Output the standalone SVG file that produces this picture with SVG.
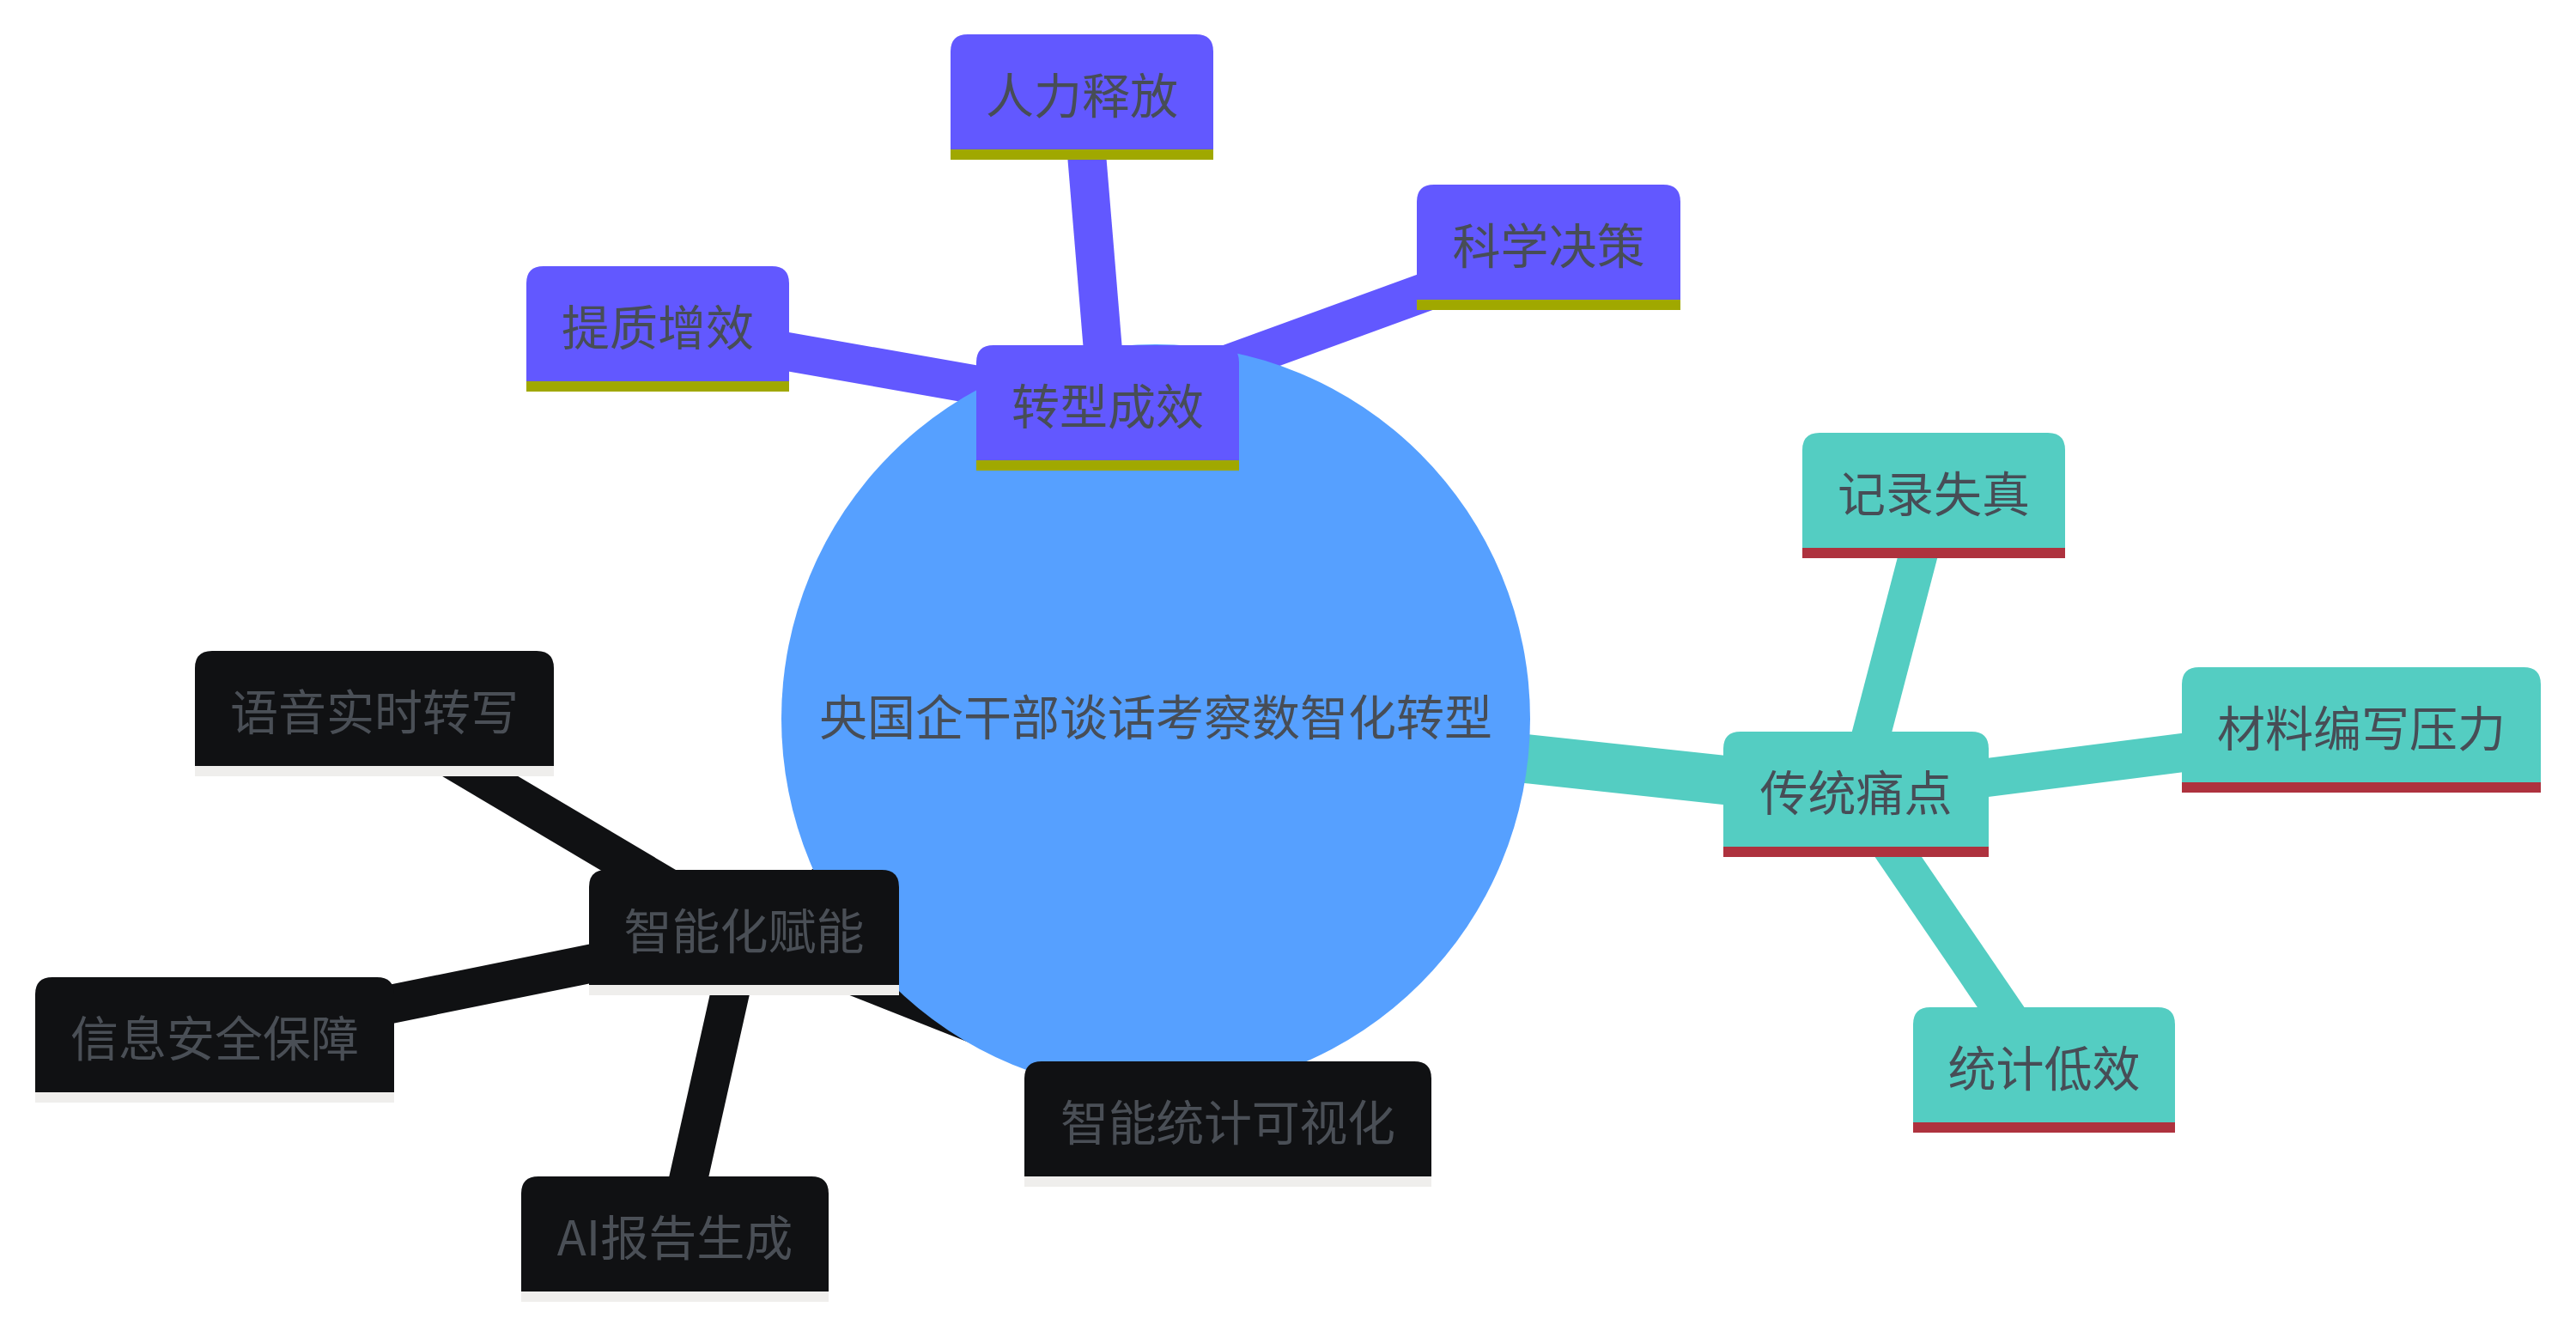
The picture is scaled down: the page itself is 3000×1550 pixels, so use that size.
<svg xmlns="http://www.w3.org/2000/svg" width="3000" height="1550" viewBox="0 0 3000 1550">
<style>
.bg{fill:#ffffff}
.e0{stroke-width:57;fill:none;stroke-linecap:butt}
.e1{stroke-width:45;fill:none;stroke-linecap:butt}
.cp{stroke:#6258ff}
.ct{stroke:#54cdc2}
.ck{stroke:#101113}
.fp{fill:#6258ff}
.ft{fill:#54cdc2}
.fk{fill:#101113}
.bp{fill:#a0a800}
.bt{fill:#ae323e}
.bk{fill:#efeeec}
.root{fill:#56a0ff}
.lbl{font-family:"Noto Sans CJK SC","Noto Sans",sans-serif;font-size:56px;fill:#474d56;text-anchor:middle}
.lblk{fill:#4a4f56}
</style>
<rect class="bg" x="0" y="0" width="3000" height="1550"/>
<g id="connectors">
  <line class="e0 cp" x1="1346" y1="837" x2="1290" y2="475"/>
  <line class="e0 ct" x1="1346" y1="837" x2="2161" y2="925"/>
  <line class="e0 ck" x1="1346" y1="837" x2="866" y2="1086"/>
  <line class="e1 cp" x1="1290" y1="475" x2="1260" y2="113"/>
  <line class="e1 cp" x1="1290" y1="475" x2="766" y2="383"/>
  <line class="e1 cp" x1="1290" y1="475" x2="1803" y2="288"/>
  <line class="e1 ct" x1="2161" y1="925" x2="2252" y2="577"/>
  <line class="e1 ct" x1="2161" y1="925" x2="2750" y2="850"/>
  <line class="e1 ct" x1="2161" y1="925" x2="2380" y2="1246"/>
  <line class="e1 ck" x1="866" y1="1086" x2="436" y2="831"/>
  <line class="e1 ck" x1="866" y1="1086" x2="250" y2="1211"/>
  <line class="e1 ck" x1="866" y1="1086" x2="786" y2="1443"/>
  <line class="e1 ck" x1="866" y1="1086" x2="1430" y2="1309"/>
</g>
<g id="root">
  <circle class="root" cx="1346" cy="837" r="436"/>
  <text class="lbl" x="1346" y="856">央国企干部谈话考察数智化转型</text>
</g>
<g id="n-zxcx">
  <path class="fp" d="M1137 537V422Q1137 402 1157 402H1423Q1443 402 1443 422V537Z"/>
  <rect class="bp" x="1137" y="536" width="306" height="12"/>
  <text class="lbl" x="1290" y="494">转型成效</text>
</g>
<g id="n-rlsf">
  <path class="fp" d="M1107 175V60Q1107 40 1127 40H1393Q1413 40 1413 60V175Z"/>
  <rect class="bp" x="1107" y="174" width="306" height="12"/>
  <text class="lbl" x="1260" y="132">人力释放</text>
</g>
<g id="n-tzzx">
  <path class="fp" d="M613 445V330Q613 310 633 310H899Q919 310 919 330V445Z"/>
  <rect class="bp" x="613" y="444" width="306" height="12"/>
  <text class="lbl" x="766" y="402">提质增效</text>
</g>
<g id="n-kxjc">
  <path class="fp" d="M1650 350V235Q1650 215 1670 215H1937Q1957 215 1957 235V350Z"/>
  <rect class="bp" x="1650" y="349" width="307" height="12"/>
  <text class="lbl" x="1803.5" y="307">科学决策</text>
</g>
<g id="n-ctdt">
  <path class="ft" d="M2007 988V872Q2007 852 2027 852H2296Q2316 852 2316 872V988Z"/>
  <rect class="bt" x="2007" y="986" width="309" height="12"/>
  <text class="lbl" x="2161.5" y="944">传统痛点</text>
</g>
<g id="n-jlsz">
  <path class="ft" d="M2099 640V524Q2099 504 2119 504H2385Q2405 504 2405 524V640Z"/>
  <rect class="bt" x="2099" y="638" width="306" height="12"/>
  <text class="lbl" x="2252" y="596">记录失真</text>
</g>
<g id="n-clbx">
  <path class="ft" d="M2541 913V797Q2541 777 2561 777H2939Q2959 777 2959 797V913Z"/>
  <rect class="bt" x="2541" y="911" width="418" height="12"/>
  <text class="lbl" x="2750" y="869">材料编写压力</text>
</g>
<g id="n-tjdx">
  <path class="ft" d="M2228 1309V1193Q2228 1173 2248 1173H2513Q2533 1173 2533 1193V1309Z"/>
  <rect class="bt" x="2228" y="1307" width="305" height="12"/>
  <text class="lbl" x="2380.5" y="1265">统计低效</text>
</g>
<g id="n-znhfn">
  <path class="fk" d="M686 1149V1033Q686 1013 706 1013H1027Q1047 1013 1047 1033V1149Z"/>
  <rect class="bk" x="686" y="1147" width="361" height="12"/>
  <text class="lbl lblk" x="866.5" y="1105">智能化赋能</text>
</g>
<g id="n-yysszx">
  <path class="fk" d="M227 894V778Q227 758 247 758H625Q645 758 645 778V894Z"/>
  <rect class="bk" x="227" y="892" width="418" height="12"/>
  <text class="lbl lblk" x="436" y="850">语音实时转写</text>
</g>
<g id="n-xxaq">
  <path class="fk" d="M41 1274V1158Q41 1138 61 1138H439Q459 1138 459 1158V1274Z"/>
  <rect class="bk" x="41" y="1272" width="418" height="12"/>
  <text class="lbl lblk" x="250" y="1230">信息安全保障</text>
</g>
<g id="n-aibg">
  <path class="fk" d="M607 1506V1390Q607 1370 627 1370H945Q965 1370 965 1390V1506Z"/>
  <rect class="bk" x="607" y="1504" width="358" height="12"/>
  <text class="lbl lblk" x="786" y="1462">AI报告生成</text>
</g>
<g id="n-zntj">
  <path class="fk" d="M1193 1372V1256Q1193 1236 1213 1236H1647Q1667 1236 1667 1256V1372Z"/>
  <rect class="bk" x="1193" y="1370" width="474" height="12"/>
  <text class="lbl lblk" x="1430" y="1328" textLength="390" lengthAdjust="spacing">智能统计可视化</text>
</g>
</svg>
